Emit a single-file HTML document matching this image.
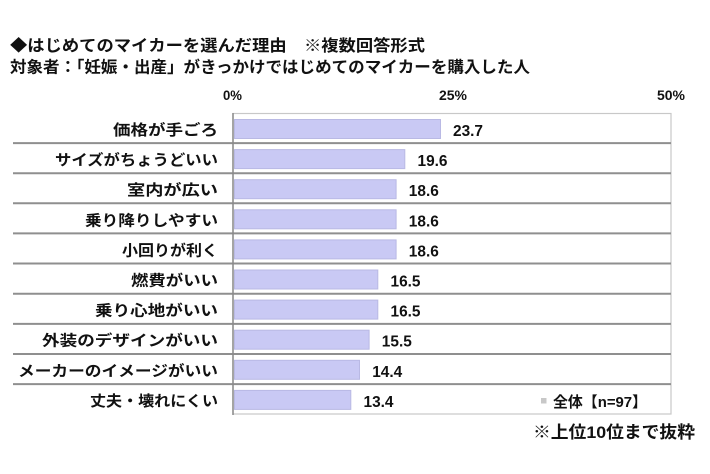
<!DOCTYPE html>
<html>
<head>
<meta charset="utf-8">
<style>
  html, body { margin: 0; padding: 0; background: #ffffff; }
  body { width: 710px; height: 474px; overflow: hidden; }
  svg { display: block; }
  text { font-family: "Liberation Sans", "Noto Sans CJK JP", sans-serif; font-weight: bold; fill: #111; }
</style>
</head>
<body>
<svg width="710" height="474" viewBox="0 0 710 474" xmlns="http://www.w3.org/2000/svg">
  <rect x="0" y="0" width="710" height="474" fill="#ffffff"/>

  <!-- Titles -->
  <text x="10" y="51" font-size="16" textLength="415" lengthAdjust="spacingAndGlyphs">◆はじめてのマイカーを選んだ理由　※複数回答形式</text>
  <text x="10" y="72.5" font-size="16" textLength="520" lengthAdjust="spacingAndGlyphs">対象者：「妊娠・出産」がきっかけではじめてのマイカーを購入した人</text>

  <!-- Axis labels -->
  <text x="223" y="100" font-size="14" textLength="19" lengthAdjust="spacingAndGlyphs">0%</text>
  <text x="439" y="100" font-size="14" textLength="28" lengthAdjust="spacingAndGlyphs">25%</text>
  <text x="657" y="100" font-size="14" textLength="28" lengthAdjust="spacingAndGlyphs">50%</text>

  <!-- Plot border -->
  <rect x="233" y="113.5" width="438" height="300.5" fill="none" stroke="#c8c8c8" stroke-width="1.2"/>

  <!-- Separators -->
  <g stroke="#8f8f8f" stroke-width="2">
    <line x1="13" y1="143.1" x2="671" y2="143.1"/>
    <line x1="13" y1="173.2" x2="671" y2="173.2"/>
    <line x1="13" y1="203.3" x2="671" y2="203.3"/>
    <line x1="13" y1="233.4" x2="671" y2="233.4"/>
    <line x1="13" y1="263.5" x2="671" y2="263.5"/>
    <line x1="13" y1="293.8" x2="671" y2="293.8"/>
    <line x1="13" y1="323.9" x2="671" y2="323.9"/>
    <line x1="13" y1="354.0" x2="671" y2="354.0"/>
    <line x1="13" y1="384.1" x2="671" y2="384.1"/>
  </g>

  <!-- Left axis -->
  <line x1="233" y1="113" x2="233" y2="415" stroke="#8a8a8a" stroke-width="1.5"/>

  <!-- Bars -->
  <g fill="#c9c9f4" stroke="#b9b9e4" stroke-width="1">
    <rect x="234.5" y="119.5" width="206.0" height="19"/>
    <rect x="234.5" y="149.6" width="170.3" height="19"/>
    <rect x="234.5" y="179.7" width="161.6" height="19"/>
    <rect x="234.5" y="209.8" width="161.6" height="19"/>
    <rect x="234.5" y="239.9" width="161.6" height="19"/>
    <rect x="234.5" y="270.0" width="143.3" height="19"/>
    <rect x="234.5" y="300.1" width="143.3" height="19"/>
    <rect x="234.5" y="330.2" width="134.6" height="19"/>
    <rect x="234.5" y="360.3" width="125.0" height="19"/>
    <rect x="234.5" y="390.4" width="116.3" height="19"/>
  </g>

  <!-- Value labels -->
  <g font-size="16">
    <text x="453" y="136" textLength="30" lengthAdjust="spacingAndGlyphs">23.7</text>
    <text x="417.5" y="166.1" textLength="30" lengthAdjust="spacingAndGlyphs">19.6</text>
    <text x="408.8" y="196.2" textLength="30" lengthAdjust="spacingAndGlyphs">18.6</text>
    <text x="408.8" y="226.3" textLength="30" lengthAdjust="spacingAndGlyphs">18.6</text>
    <text x="408.8" y="256.4" textLength="30" lengthAdjust="spacingAndGlyphs">18.6</text>
    <text x="390.5" y="286.5" textLength="30" lengthAdjust="spacingAndGlyphs">16.5</text>
    <text x="390.5" y="316.6" textLength="30" lengthAdjust="spacingAndGlyphs">16.5</text>
    <text x="381.8" y="346.7" textLength="30" lengthAdjust="spacingAndGlyphs">15.5</text>
    <text x="372.2" y="376.8" textLength="30" lengthAdjust="spacingAndGlyphs">14.4</text>
    <text x="363.5" y="406.9" textLength="30" lengthAdjust="spacingAndGlyphs">13.4</text>
  </g>

  <!-- Category labels -->
  <g font-size="15">
    <text x="113" y="135" textLength="105" lengthAdjust="spacingAndGlyphs">価格が手ごろ</text>
    <text x="55" y="165.1" textLength="163" lengthAdjust="spacingAndGlyphs">サイズがちょうどいい</text>
    <text x="127" y="195.2" textLength="91" lengthAdjust="spacingAndGlyphs">室内が広い</text>
    <text x="85" y="225.3" textLength="133" lengthAdjust="spacingAndGlyphs">乗り降りしやすい</text>
    <text x="122" y="255.4" textLength="96" lengthAdjust="spacingAndGlyphs">小回りが利く</text>
    <text x="131" y="285.5" textLength="87" lengthAdjust="spacingAndGlyphs">燃費がいい</text>
    <text x="95" y="315.6" textLength="123" lengthAdjust="spacingAndGlyphs">乗り心地がいい</text>
    <text x="42" y="345.7" textLength="176" lengthAdjust="spacingAndGlyphs">外装のデザインがいい</text>
    <text x="18" y="375.8" textLength="200" lengthAdjust="spacingAndGlyphs">メーカーのイメージがいい</text>
    <text x="90" y="405.9" textLength="128" lengthAdjust="spacingAndGlyphs">丈夫・壊れにくい</text>
  </g>

  <!-- Legend -->
  <rect x="541" y="398" width="5.5" height="5.5" fill="#c8c8c8"/>
  <text x="553" y="407" font-size="15" textLength="94" lengthAdjust="spacingAndGlyphs">全体【n=97】</text>

  <!-- Footnote -->
  <text x="533" y="438" font-size="17" textLength="162" lengthAdjust="spacingAndGlyphs">※上位10位まで抜粋</text>
</svg>
</body>
</html>
